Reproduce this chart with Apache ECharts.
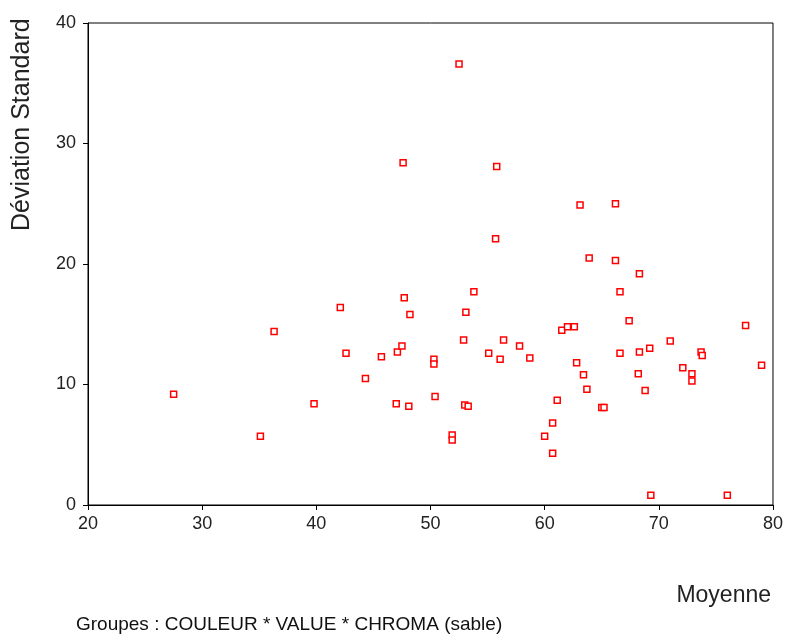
<!DOCTYPE html>
<html>
<head>
<meta charset="utf-8">
<script src="https://cdn.jsdelivr.net/npm/echarts@6/dist/echarts.min.js"></script>
<style>
	html, body { margin: 0; padding: 0; background: #fff; }
	#main { width: 786px; height: 634px; }
</style>
</head>
<body>
<div id="main"></div>
<script>
// moyenne (x) / deviation standard (y)
var moyenne = [
	27.5, 35.1, 36.3, 39.8, 42.1, 42.6, 44.3, 45.7, 47.1, 47.0,
	47.5, 47.7, 48.2, 48.1, 47.6, 52.5, 55.8, 55.7, 63.1, 66.2,
	63.9, 66.2, 68.3, 66.6, 53.8, 53.1, 67.4, 61.5, 62.0, 62.6,
	77.6, 52.9, 56.4, 57.8, 71.0, 55.1, 56.1, 58.7, 50.3, 50.3,
	66.6, 68.3, 69.2, 73.7, 73.8, 62.8, 63.4, 63.7, 68.2, 68.8,
	72.1, 72.9, 72.9, 79.0, 50.4, 53.0, 53.3, 51.9, 51.9, 61.1,
	65.0, 65.2, 60.7, 60.0, 60.7, 69.3, 76.0
];
var deviation = [
	9.2, 5.7, 14.4, 8.4, 16.4, 12.6, 10.5, 12.3, 12.7, 8.4,
	13.2, 17.2, 15.8, 8.2, 28.4, 36.6, 28.1, 22.1, 24.9, 25.0,
	20.5, 20.3, 19.2, 17.7, 17.7, 16.0, 15.3, 14.5, 14.8, 14.8,
	14.9, 13.7, 13.7, 13.2, 13.6, 12.6, 12.1, 12.2, 12.1, 11.7,
	12.6, 12.7, 13.0, 12.7, 12.4, 11.8, 10.8, 9.6, 10.9, 9.5,
	11.4, 10.9, 10.3, 11.6, 9.0, 8.3, 8.2, 5.8, 5.4, 8.7,
	8.1, 8.1, 6.8, 5.7, 4.3, 0.8, 0.8
];
var xTicks = [20, 30, 40, 50, 60, 70, 80];
var yTicks = [0, 10, 20, 30, 40];

var points = [];
for (var i = 0; i < moyenne.length; i++) {
	points.push([moyenne[i], deviation[i]]);
}

var chart = echarts.init(document.getElementById('main'));
var font = 'Liberation Sans, Arial, sans-serif';
var option = {
	backgroundColor: '#fff',
	animation: false,
	grid: {
		left: 88, right: 11, top: 23, bottom: 129,
		show: true, borderColor: '#000', borderWidth: 1
	},
	xAxis: {
		type: 'value',
		min: xTicks[0], max: xTicks[xTicks.length - 1], interval: 10,
		axisLine: { show: true, lineStyle: { color: '#000', width: 1 } },
		axisTick: { show: true, length: 5, lineStyle: { color: '#000' } },
		axisLabel: { fontFamily: font, fontSize: 18, color: '#222', margin: 10 },
		splitLine: { show: false }
	},
	yAxis: {
		type: 'value',
		min: yTicks[0], max: yTicks[yTicks.length - 1], interval: 10,
		axisLine: { show: true, lineStyle: { color: '#000', width: 1 } },
		axisTick: { show: true, length: 5, lineStyle: { color: '#000' } },
		axisLabel: { fontFamily: font, fontSize: 18, color: '#222', margin: 12 },
		splitLine: { show: false }
	},
	title: [
		{ text: 'Moyenne', right: 10, top: 579,
		  textStyle: { fontFamily: font, fontSize: 23, fontWeight: 'normal', color: '#222' } },
		{ text: 'Groupes : COULEUR * VALUE * CHROMA (sable)', left: 71, top: 610,
		  textStyle: { fontFamily: font, fontSize: 19, fontWeight: 'normal', color: '#111' } }
	],
	graphic: [{
		type: 'text',
		x: 22, y: 231,
		rotation: Math.PI / 2,
		style: {
			text: 'Déviation Standard',
			font: '25px Liberation Sans, Arial, sans-serif',
			fill: '#222',
			textAlign: 'left',
			textVerticalAlign: 'middle'
		}
	}],
	series: [{
		type: 'scatter',
		data: points,
		symbol: 'rect',
		symbolSize: 6,
		itemStyle: { color: '#fff', borderColor: '#ff0000', borderWidth: 1.5, opacity: 1 }
	}]
};
chart.setOption(option);
</script>
</body>
</html>
